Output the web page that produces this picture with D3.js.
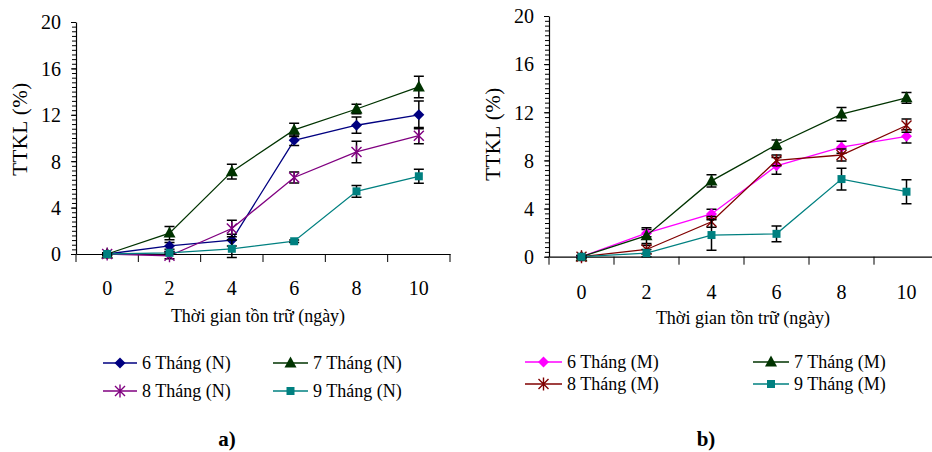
<!DOCTYPE html>
<html>
<head>
<meta charset="utf-8">
<script src="https://cdn.jsdelivr.net/npm/d3@7"></script>
<style>
  html, body { margin: 0; padding: 0; background: #fff; }
  svg { display: block; }
  svg text { font-family: "Liberation Serif", "Times New Roman", Times, "DejaVu Serif", serif; }
</style>
</head>
<body>
<svg id="chart" width="932" height="452"></svg>
<script>
// Storage time (days) shared by both panels
const days = [0, 2, 4, 6, 8, 10];
const yTicks = [0, 4, 8, 12, 16, 20];

// Panel a) – weight loss (%) by harvest age, series N
const n6 = [0, 0.7, 1.2, 9.8, 11.1, 12.0];
const n6Err = [0.1, 0.3, 0.5, 0.45, 0.7, 1.2];
const n7 = [0, 1.8, 7.1, 10.7, 12.5, 14.4];
const n7Err = [0.1, 0.57, 0.63, 0.57, 0.4, 0.93];
const n8 = [0, -0.15, 2.2, 6.6, 8.8, 10.2];
const n8Err = [0.1, 0.25, 0.72, 0.47, 0.93, 0.7];
const n9 = [0, 0.1, 0.45, 1.1, 5.4, 6.7];
const n9Err = [0.05, 0.1, 0.75, 0.1, 0.5, 0.6];

// Panel b) – weight loss (%) by harvest age, series M
const m6 = [0, 1.95, 3.55, 7.55, 9.1, 10.0];
const m6Err = [0.1, 0.3, 0.4, 0.7, 0.5, 0.55];
const m7 = [0, 1.75, 6.3, 9.3, 11.85, 13.2];
const m7Err = [0.1, 0.65, 0.5, 0.4, 0.55, 0.45];
const m8 = [0, 0.6, 2.9, 8.0, 8.45, 10.9];
const m8Err = [0.1, 0.35, 0.45, 0.45, 0.5, 0.55];
const m9 = [0, 0.3, 1.8, 1.9, 6.45, 5.4];
const m9Err = [0.05, 0.3, 1.27, 0.65, 0.9, 1.0];

const labelsA = ["6 Tháng (N)", "7 Tháng (N)", "8 Tháng (N)", "9 Tháng (N)"];
const labelsB = ["6 Tháng (M)", "7 Tháng (M)", "8 Tháng (M)", "9 Tháng (M)"];

const svg = d3.select("#chart");

// Marker shapes
function markerPath(type) {
  if (type === "diamond") return "M0,-5.5L5.5,0L0,5.5L-5.5,0Z";
  if (type === "triangle") return "M0,-6.5L6,4.5L-6,4.5Z";
  if (type === "square") return "M-4,-4H4V4H-4Z";
  // asterisk star: X plus vertical stroke
  return "M-5,-5L5,5M-5,5L5,-5M0,-6.5V6.5";
}

function drawMarker(g, type, color, x, y) {
  const p = g.append("path")
    .attr("transform", `translate(${x},${y})`)
    .attr("d", markerPath(type));
  if (type === "star") {
    p.attr("fill", "none").attr("stroke", color).attr("stroke-width", 1.4);
  } else {
    p.attr("fill", color).attr("stroke", "none");
  }
}

function drawPanel(cfg) {
  const g = svg.append("g");
  const x = d3.scaleBand().domain(days).range([cfg.left, cfg.right]).padding(0);
  const y = d3.scaleLinear().domain([0, 20]).range([cfg.bottom, cfg.top]);
  const cx = d => x(d) + x.bandwidth() / 2;

  // minor y ticks
  g.append("g")
    .attr("transform", `translate(${cfg.left},0)`)
    .call(d3.axisLeft(y).tickValues(d3.range(0, 20.001, 0.4)).tickSize(4).tickSizeOuter(0).tickFormat(""))
    .call(a => a.select(".domain").remove())
    .call(a => a.selectAll("line").attr("stroke", "#000").attr("stroke-width", 1));

  // major y axis
  g.append("g")
    .attr("transform", `translate(${cfg.left},0)`)
    .call(d3.axisLeft(y).tickValues(yTicks).tickSize(5).tickSizeOuter(0).tickPadding(10))
    .call(a => a.attr("font-family", null))
    .call(a => a.select(".domain").attr("stroke", "#000").attr("stroke-width", 1.2))
    .call(a => a.selectAll("line").attr("stroke", "#000").attr("stroke-width", 1))
    .call(a => a.selectAll("text").attr("font-size", 20).attr("fill", "#000").attr("dy", "0.34em"));

  // x axis: labels at category centres, ticks at category boundaries
  g.append("g")
    .attr("transform", `translate(0,${cfg.bottom})`)
    .call(d3.axisBottom(x).tickSize(0).tickSizeOuter(0).tickPadding(0))
    .call(a => a.attr("font-family", null))
    .call(a => a.select(".domain").attr("stroke", "#000").attr("stroke-width", 1.2))
    .call(a => a.selectAll("text").attr("font-size", 20).attr("fill", "#000")
      .attr("dy", null).attr("y", cfg.tickLabelOffset));
  const bounds = days.map(d => x(d)).concat([cfg.right]);
  g.append("g").selectAll("line").data(bounds).join("line")
    .attr("x1", d => d).attr("x2", d => d)
    .attr("y1", cfg.bottom).attr("y2", cfg.bottom + 8)
    .attr("stroke", "#000").attr("stroke-width", 1);

  // axis titles
  g.append("text")
    .attr("x", cfg.xTitleX).attr("y", cfg.xTitleY)
    .attr("text-anchor", "middle").attr("font-size", 18)
    .text("Thời gian tồn trữ (ngày)");
  g.append("text")
    .attr("transform", `translate(${cfg.yTitleX},${cfg.yTitleY}) rotate(-90)`)
    .attr("text-anchor", "middle").attr("font-size", 21).attr("letter-spacing", 0.5)
    .text("TTKL (%)");

  // series
  const line = d3.line().x((d, i) => cx(days[i])).y(d => y(d));
  cfg.series.forEach(s => {
    const sg = g.append("g");
    sg.append("path").datum(s.values)
      .attr("d", line).attr("fill", "none")
      .attr("stroke", s.color).attr("stroke-width", 1.3);
    s.values.forEach((v, i) => {
      const px = cx(days[i]);
      const e = s.err[i];
      const y1 = y(v - e), y2 = y(v + e);
      sg.append("path")
        .attr("d", `M${px},${y1}V${y2}M${px - 5},${y1}H${px + 5}M${px - 5},${y2}H${px + 5}`)
        .attr("stroke", "#000").attr("stroke-width", 1.5).attr("fill", "none");
      drawMarker(sg, s.marker, s.color, px, y(v));
    });
  });

  // legend
  const lg = g.append("g");
  cfg.legend.forEach((it, k) => {
    const s = cfg.series[k];
    lg.append("line")
      .attr("x1", it.x0).attr("x2", it.x1).attr("y1", it.y).attr("y2", it.y)
      .attr("stroke", s.color).attr("stroke-width", 1.3);
    drawMarker(lg, s.marker, s.color, (it.x0 + it.x1) / 2, it.y);
    lg.append("text")
      .attr("x", it.x1 + 5).attr("y", it.y).attr("dy", "0.33em")
      .attr("font-size", 18).text(cfg.labels[k]);
  });

  g.append("text")
    .attr("x", cfg.tagX).attr("y", 446)
    .attr("text-anchor", "middle").attr("font-size", 21).attr("font-weight", "bold")
    .text(cfg.tag);
}

drawPanel({
  left: 76, right: 450, top: 22, bottom: 254,
  tickLabelOffset: 41,
  xTitleX: 258, xTitleY: 322,
  yTitleX: 27, yTitleY: 129,
  labels: labelsA,
  series: [
    { values: n6, err: n6Err, color: "#000080", marker: "diamond" },
    { values: n7, err: n7Err, color: "#003300", marker: "triangle" },
    { values: n8, err: n8Err, color: "#800080", marker: "star" },
    { values: n9, err: n9Err, color: "#008080", marker: "square" }
  ],
  legend: [
    { x0: 103, x1: 137, y: 363 },
    { x0: 273, x1: 308, y: 363 },
    { x0: 103, x1: 137, y: 391 },
    { x0: 273, x1: 308, y: 391 }
  ],
  tag: "a)", tagX: 227
});

drawPanel({
  left: 549, right: 939, top: 16, bottom: 256.7,
  tickLabelOffset: 42,
  xTitleX: 743, xTitleY: 324,
  yTitleX: 500, yTitleY: 134,
  labels: labelsB,
  series: [
    { values: m6, err: m6Err, color: "#FF00FF", marker: "diamond" },
    { values: m7, err: m7Err, color: "#003300", marker: "triangle" },
    { values: m8, err: m8Err, color: "#800000", marker: "star" },
    { values: m9, err: m9Err, color: "#008080", marker: "square" }
  ],
  legend: [
    { x0: 525, x1: 562, y: 362 },
    { x0: 753, x1: 789, y: 362 },
    { x0: 525, x1: 562, y: 384 },
    { x0: 753, x1: 789, y: 384 }
  ],
  tag: "b)", tagX: 706
});
</script>
</body>
</html>
